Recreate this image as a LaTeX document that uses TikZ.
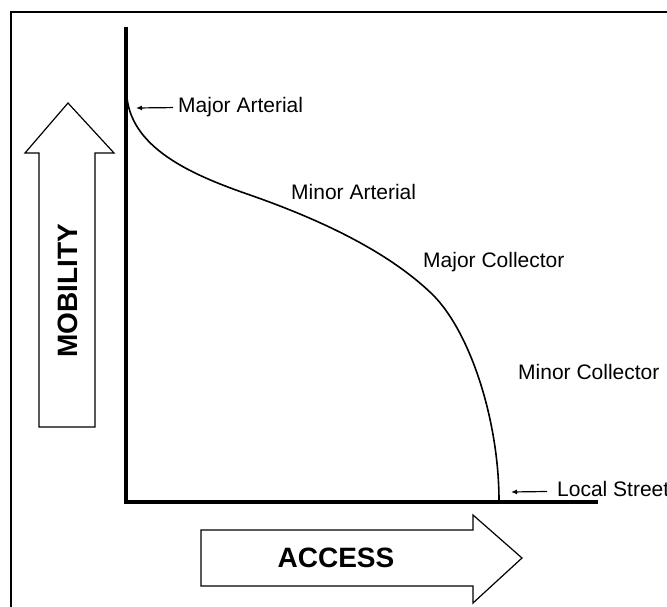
\documentclass[tikz,border=0pt]{standalone}
\usepackage{fontspec}
\setmainfont{Liberation Sans}
\usetikzlibrary{arrows.meta}
\begin{document}
\begin{tikzpicture}[
    x=1pt, y=-1pt,
    every node/.style={inner sep=0pt},
    label/.style={anchor=base west, font=\fontsize{21}{25}\selectfont},
    title/.style={font=\bfseries\fontsize{28}{32}\selectfont},
    bigarrow/.style={draw, line width=1.2pt, fill=white, line join=miter},
    pointer/.style={-{Latex[length=6pt,width=5pt]}, line width=1.2pt},
    axis/.style={line width=4pt},
    curve/.style={line width=1.6pt}
]
\clip (0,0) rectangle (667,607);
% frame
\draw[line width=2pt] (11,650) -- (11,12) -- (700,12);
% axes
\draw[axis] (125.5,27) -- (125.5,501.5) -- (598,501.5);
% big arrows
\draw[bigarrow] (39,427) -- (39,153) -- (25,153) -- (68,103) -- (114,153)
    -- (95,153) -- (95,427) -- cycle;
\draw[bigarrow] (201,530) -- (473,530) -- (473,515) -- (522,558) -- (473,603)
    -- (473,586) -- (201,586) -- cycle;
\node[title, rotate=90] (mobility) at (68,291) {MOBILITY};
\node[title] (access) at (336,558) {ACCESS};
% the curve
\draw[curve] (127,98) .. controls (133,150) and (195,176) .. (250,195)
    .. controls (310,216) and (385,248) .. (433,295)
    .. controls (470,332) and (499,420) .. (499,501);
% labels
\node[label] (majart) at (178,113) {Major Arterial};
\node[label] (minart) at (291,200) {Minor Arterial};
\node[label] (majcol) at (423,267) {Major Collector};
\node[label] (mincol) at (518,379) {Minor Collector};
\node[label] (local) at (557,496) {Local Street};
\coordinate (majtip) at (136,108);
\coordinate (loctip) at (511,492);
\draw[pointer] ([xshift=-5pt]majart.west) -- (majtip);
\draw[pointer] ([xshift=-10pt,yshift=-3pt]local.west) -- (loctip);
\end{tikzpicture}
\end{document}
